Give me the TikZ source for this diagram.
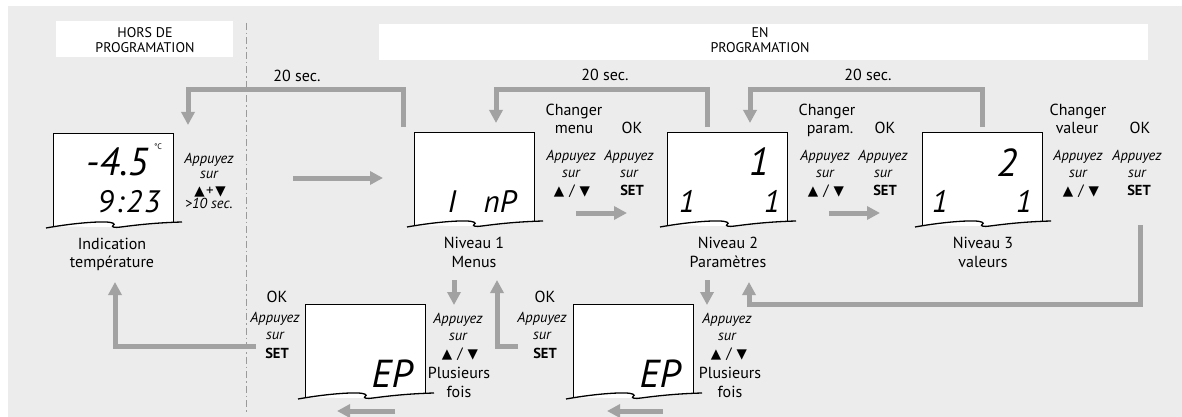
\documentclass[tikz,border=0pt]{standalone}
\usepackage{fontspec}
\setmainfont{PT Sans}
\newfontfamily\symf{DejaVu Sans}
\usetikzlibrary{arrows.meta}
\definecolor{bgc}{HTML}{ECECEC}
\definecolor{arr}{HTML}{A2A2A2}
\definecolor{dashc}{HTML}{9A9A9A}
\tikzset{
  flow/.style={draw=arr, line width=5pt, -{Triangle[width=13pt,length=13pt]}},
  lbl/.style={inner sep=0pt, anchor=base, font=\fontsize{16}{18}\selectfont},
  app/.style={inner sep=0pt, anchor=base, font=\fontsize{14.5}{16}\selectfont\itshape},
  setb/.style={inner sep=0pt, anchor=base, font=\fontsize{14.5}{16}\selectfont\bfseries},
  hdr/.style={inner sep=0pt, anchor=base, font=\fontsize{14}{16}\selectfont},
  tri/.style={inner sep=0pt, anchor=base, font=\fontsize{15}{16}\selectfont},
  lcd/.style={inner sep=0pt, anchor=base, font=\fontsize{31}{31}\selectfont\itshape},
  lcdbig/.style={inner sep=0pt, anchor=base, font=\fontsize{39}{39}\selectfont\itshape},
  dispbox/.style={anchor=north west, inner sep=0pt, minimum width=120pt, minimum height=94pt, draw=none},
  hdrbox/.style={anchor=north west, inner sep=0pt, fill=white, draw=none},
}
\newcommand\lcdframe[1]{%
  \begin{scope}[shift={(#1.north west)}]
    \fill[white] (0,0) -- (120,0) -- (120,89.5) -- (68,94) -- (61,94) -- (0,93.5) -- cycle;
    \draw[line width=1pt] (0,93.5) -- (0,0) -- (120,0) -- (120,89.5);
    \draw[line width=1.3pt] (-7,95) .. controls (15,91) and (40,88.5) .. (53,89)
      .. controls (60,89.3) and (63,91) .. (60,92.5)
      .. controls (58,94) and (62,95) .. (68,94)
      .. controls (90,91) and (110,89.5) .. (129,89);
  \end{scope}}
\newcommand\tris[1]{{\fontsize{13.5}{13.5}\symf ▲}#1{\fontsize{13.5}{13.5}\symf ▼}}
\begin{document}
\begin{tikzpicture}[x=1pt,y=-1pt]
\useasboundingbox (0,0) rectangle (1182,417);
\fill[bgc] (8,6) rectangle (1182,417);

% headers
\node[hdrbox, minimum width=177pt, minimum height=36pt] (hors) at (56,21) {};
\node[hdrbox, minimum width=769pt, minimum height=36pt] (enprog) at (379,24) {};
\node[hdr] (h1) at (145,37.5) {HORS DE};
\node[hdr] (h2) at (145,53) {PROGRAMATION};
\node[hdr] (h3) at (760,37.5) {EN};
\node[hdr] (h4) at (760,53) {PROGRAMATION};

% separator
\coordinate (septop) at (246,23);
\coordinate (sepbot) at (246,413);
\draw[dashc, line width=0.8pt, dash pattern=on 7pt off 3pt on 1.5pt off 3pt] (septop) -- (sepbot);

% displays
\node[dispbox] (d1) at (53,133) {};
\node[dispbox] (d2) at (414,132) {};
\node[dispbox] (d3) at (667,132) {};
\node[dispbox] (d4) at (922,132) {};
\node[dispbox] (d5) at (305,304) {};
\node[dispbox] (d6) at (573,304) {};
\lcdframe{d1}\lcdframe{d2}\lcdframe{d3}\lcdframe{d4}\lcdframe{d5}\lcdframe{d6}

% display contents
\node[lcdbig] (v1) at (117,175) {-4.5};
\node[inner sep=0pt, anchor=base, font=\fontsize{8}{8}\selectfont] (v1c) at (158,149) {°C};
\node[lcd] (v2) at (129,212) {9\kern2pt:\kern2pt2\kern2pt3};
\node[lcd] (v3) at (452,212) {I};
\node[lcd] (v4) at (500,212) {nP};
\node[lcdbig] (v5) at (759,175) {1};
\node[lcd] (v6) at (687,212) {1};
\node[lcd] (v7) at (772,212) {1};
\node[lcdbig] (v8) at (1007,176) {2};
\node[lcd] (v9) at (940,212) {1};
\node[lcd] (v10) at (1024,212) {1};
\node[lcdbig] (v11) at (392,387) {EP};
\node[lcdbig] (v12) at (660,387) {EP};

% captions under displays
\node[lbl] (c1) at (112,249) {Indication};
\node[lbl] (c2) at (112,267) {température};
\node[lbl] (c3) at (474,248) {Niveau 1};
\node[lbl] (c4) at (474,267) {Menus};
\node[lbl] (c5) at (728,248) {Niveau 2};
\node[lbl] (c6) at (728,267) {Paramètres};
\node[lbl] (c7) at (983,248) {Niveau 3};
\node[lbl] (c8) at (983,267) {valeurs};

% 20 sec labels
\node[lbl] (s1) at (297,82) {20 sec.};
\node[lbl] (s2) at (605,81) {20 sec.};
\node[lbl] (s3) at (868,81) {20 sec.};

% beside d1
\node[app] (a1) at (209,163) {Appuyez};
\node[app] (a2) at (209,178) {sur};
\node[tri] (a3) at (210,195) {\tris{\hspace{1.5pt}+\hspace{1.5pt}}};
\node[app] (a4) at (209,208) {>10 sec.};

% beside d2
\node[lbl] (b1) at (574,115) {Changer};
\node[lbl] (b2) at (574,133) {menu};
\node[lbl] (b3) at (632,133) {OK};
\node[app] (b4) at (571,160) {Appuyez};
\node[app] (b5) at (629,160) {Appuyez};
\node[app] (b6) at (571,177) {sur};
\node[app] (b7) at (629,177) {sur};
\node[tri] (b8) at (572,195) {\tris{\hspace{5pt}/\hspace{5pt}}};
\node[setb] (b9) at (632,195) {SET};

% beside d3
\node[lbl] (e1) at (827,115) {Changer};
\node[lbl] (e2) at (830,133) {param.};
\node[lbl] (e3) at (885,133) {OK};
\node[app] (e4) at (825,160) {Appuyez};
\node[app] (e5) at (883,160) {Appuyez};
\node[app] (e6) at (825,177) {sur};
\node[app] (e7) at (883,177) {sur};
\node[tri] (e8) at (826,195) {\tris{\hspace{5pt}/\hspace{5pt}}};
\node[setb] (e9) at (885,195) {SET};

% beside d4
\node[lbl] (f1) at (1078,115) {Changer};
\node[lbl] (f2) at (1077,133) {valeur};
\node[lbl] (f3) at (1140,133) {OK};
\node[app] (f4) at (1078,160) {Appuyez};
\node[app] (f5) at (1137,160) {Appuyez};
\node[app] (f6) at (1078,177) {sur};
\node[app] (f7) at (1137,177) {sur};
\node[tri] (f8) at (1081,195) {\tris{\hspace{5pt}/\hspace{5pt}}};
\node[setb] (f9) at (1139,195) {SET};

% bottom left group
\node[lbl] (g1) at (277,302) {OK};
\node[app] (g2) at (275,322) {Appuyez};
\node[app] (g3) at (275,339) {sur};
\node[setb] (g4) at (277,358) {SET};
\node[app] (g5) at (458,323) {Appuyez};
\node[app] (g6) at (458,340) {sur};
\node[tri] (g7) at (460,358) {\tris{\hspace{5pt}/\hspace{5pt}}};
\node[lbl] (g8) at (459,378) {Plusieurs};
\node[lbl] (g9) at (459,397) {fois};

% bottom right group
\node[lbl] (k1) at (545,302) {OK};
\node[app] (k2) at (542,322) {Appuyez};
\node[app] (k3) at (542,339) {sur};
\node[setb] (k4) at (545,358) {SET};
\node[app] (k5) at (727,323) {Appuyez};
\node[app] (k6) at (727,340) {sur};
\node[tri] (k7) at (729,358) {\tris{\hspace{5pt}/\hspace{5pt}}};
\node[lbl] (k8) at (730,378) {Plusieurs};
\node[lbl] (k9) at (730,397) {fois};

% connectors
\coordinate (r1a) at (403,127); \coordinate (r1b) at (188,125);
\draw[flow] (r1a) -- (403,90) -- (188,90) -- (r1b);
\coordinate (r2a) at (707,127); \coordinate (r2b) at (496,123);
\draw[flow] (r2a) -- (707,90) -- (496,90) -- (r2b);
\coordinate (r3a) at (982,127); \coordinate (r3b) at (750,123);
\draw[flow] (r3a) -- (982,90) -- (750,90) -- (r3b);

\coordinate (h1a) at (293,178); \coordinate (h1b) at (383,178);
\draw[flow] (h1a) -- (h1b);
\coordinate (h2a) at (576,213); \coordinate (h2b) at (627,213);
\draw[flow] (h2a) -- (h2b);
\coordinate (h3a) at (829,213); \coordinate (h3b) at (880,213);
\draw[flow] (h3a) -- (h3b);

\coordinate (rt1) at (1140,225); \coordinate (rt2) at (749,282);
\draw[flow] (rt1) -- (1140,304) -- (749,304) -- (rt2);

\coordinate (dn1a) at (454,280); \coordinate (dn1b) at (454,305);
\draw[flow] (dn1a) -- (dn1b);
\coordinate (dn2a) at (707,280); \coordinate (dn2b) at (707,305);
\draw[flow] (dn2a) -- (dn2b);

\coordinate (up1a) at (518,346); \coordinate (up1b) at (497,280);
\draw[flow] (up1a) -- (497,346) -- (up1b);
\coordinate (up2a) at (256,346); \coordinate (up2b) at (115,282);
\draw[flow] (up2a) -- (115,346) -- (up2b);

\coordinate (l1a) at (395,411); \coordinate (l1b) at (337,411);
\draw[flow] (l1a) -- (l1b);
\coordinate (l2a) at (663,411); \coordinate (l2b) at (607,411);
\draw[flow] (l2a) -- (l2b);
\end{tikzpicture}
\end{document}
